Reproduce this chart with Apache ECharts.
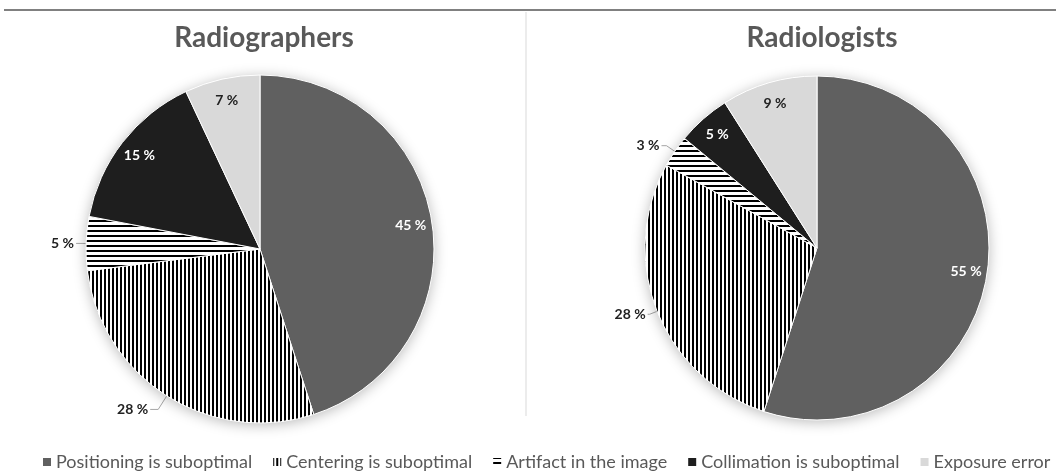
<!DOCTYPE html>
<html>
<head>
<meta charset="utf-8">
<script src="https://cdn.jsdelivr.net/npm/echarts@6/dist/echarts.min.js"></script>
<style>
  html, body { margin: 0; padding: 0; background: #fff; }
  #main { width: 1056px; height: 472px; }
</style>
</head>
<body>
<div id="main"></div>
<script>
const categories = ['Positioning is suboptimal', 'Centering is suboptimal', 'Artifact in the image', 'Collimation is suboptimal', 'Exposure error'];
const radiographers = [45, 28, 5, 15, 7];
const radiologists = [55, 28, 3, 5, 9];

// which labels sit outside with a leader line, and how long that line is
const outsideLeft = [false, true, true, false, false];
const outsideRight = [false, true, true, false, false];
const leaderLeft = [null, [16, 8], [4, 6], null, null];
const leaderRight = [null, [8, 2], [10, 5], null, null];

function stripes(vertical) {
  const c = document.createElement('canvas');
  c.width = 4; c.height = vertical ? 4 : 5;
  const g = c.getContext('2d');
  g.fillStyle = '#fff';
  g.fillRect(0, 0, c.width, c.height);
  g.fillStyle = '#000';
  if (vertical) g.fillRect(0, 0, 2, 4);
  else g.fillRect(0, 0, 4, 2);
  return { image: c, repeat: 'repeat' };
}

const fills = ['#606060', stripes(true), stripes(false), '#1e1e1e', '#d9d9d9'];
const insideText = ['#fff', '#000', '#000', '#fff', '#222'];
const font = 'Lato, "Open Sans", sans-serif';

function mainData(values, outside, leader) {
  return values.map((v, i) => ({
    name: categories[i],
    value: v,
    itemStyle: { color: fills[i] },
    label: { show: outside[i] },
    labelLine: leader[i]
      ? { show: true, length: leader[i][0], length2: leader[i][1] }
      : { show: false }
  }));
}

function labelData(values, outside) {
  return values.map((v, i) => ({
    name: categories[i],
    value: v,
    label: { show: !outside[i], color: insideText[i] }
  }));
}

function makeSeries(values, outside, leader, cx, cy, r) {
  return [
    {
      // soft shadow behind the whole pie
      type: 'pie',
      silent: true,
      center: [cx, cy],
      radius: [0, r],
      itemStyle: { color: '#fff', shadowBlur: 14, shadowColor: 'rgba(0,0,0,0.28)', shadowOffsetY: 2 },
      label: { show: false },
      labelLine: { show: false },
      emphasis: { disabled: true },
      data: [{ name: 'shadow', value: 100 }]
    },
    {
      type: 'pie',
      center: [cx, cy],
      radius: [0, r],
      startAngle: 90,
      clockwise: true,
      avoidLabelOverlap: false,
      itemStyle: { borderColor: '#fff', borderWidth: 1 },
      label: {
        position: 'outside',
        formatter: p => p.value + ' %',
        color: '#222',
        fontFamily: font,
        fontWeight: 'bold',
        fontSize: 14,
        distanceToLabelLine: 2
      },
      labelLine: {
        lineStyle: { color: '#a6a6a6', width: 1 }
      },
      emphasis: { disabled: true },
      data: mainData(values, outside, leader)
    },
    {
      // label-only layer so the inner labels sit near the rim
      type: 'pie',
      silent: true,
      center: [cx, cy],
      radius: [0, r * 1.72],
      startAngle: 90,
      clockwise: true,
      itemStyle: { color: 'rgba(0,0,0,0)' },
      label: {
        position: 'inside',
        formatter: p => p.value + ' %',
        fontFamily: font,
        fontWeight: 'bold',
        fontSize: 14
      },
      labelLine: { show: false },
      emphasis: { disabled: true },
      data: labelData(values, outside)
    }
  ];
}

const chart = echarts.init(document.getElementById('main'));
chart.setOption({
  animation: false,
  backgroundColor: '#fff',
  title: [
    {
      text: 'Radiographers', left: 259, top: 19, textAlign: 'center',
      textStyle: { fontFamily: font, fontWeight: 'bold', fontSize: 28, color: '#595959' }
    },
    {
      text: 'Radiologists', left: 817, top: 19, textAlign: 'center',
      textStyle: { fontFamily: font, fontWeight: 'bold', fontSize: 28, color: '#595959' }
    }
  ],
  legend: {
    data: categories,
    left: 36,
    top: 448,
    width: 1600,
    icon: 'rect',
    itemWidth: 10,
    itemHeight: 10,
    itemGap: 19,
    selectedMode: false,
    textStyle: { fontFamily: font, fontSize: 18, color: '#595959', padding: [0, 0, 0, -1] }
  },
  graphic: [
    { type: 'line', shape: { x1: 4, y1: 10, x2: 1056, y2: 10 }, style: { stroke: '#808080', lineWidth: 2 } },
    { type: 'line', shape: { x1: 526, y1: 12, x2: 526, y2: 416 }, style: { stroke: '#d9d9d9', lineWidth: 1 } }
  ],
  series: [
    ...makeSeries(radiographers, outsideLeft, leaderLeft, 260, 249, 174),
    ...makeSeries(radiologists, outsideRight, leaderRight, 817, 248, 172)
  ]
});
</script>
</body>
</html>
